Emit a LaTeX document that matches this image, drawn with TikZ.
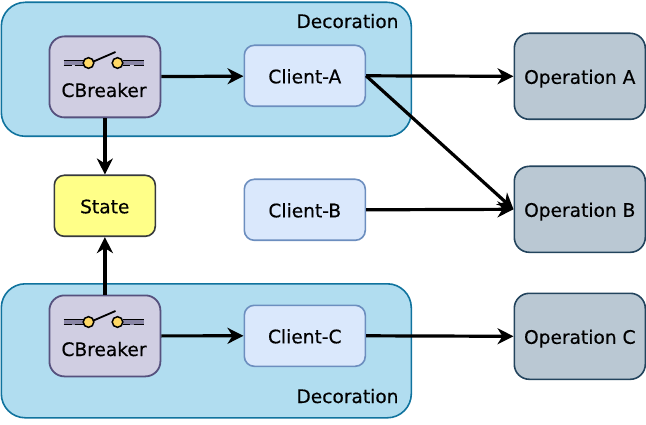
\documentclass[tikz,border=0pt]{standalone}
\usepackage{fontspec}
\setmainfont{DejaVu Sans}[FakeBold=0.4]
\usetikzlibrary{arrows.meta,positioning}
\definecolor{groupfill}{HTML}{B1DDF0}
\definecolor{groupline}{HTML}{10739E}
\definecolor{cbfill}{HTML}{D0CEE2}
\definecolor{cbline}{HTML}{56517E}
\definecolor{clfill}{HTML}{DAE8FC}
\definecolor{clline}{HTML}{6C8EBF}
\definecolor{opfill}{HTML}{BAC8D3}
\definecolor{opline}{HTML}{23445D}
\definecolor{stfill}{HTML}{FFFF88}
\definecolor{stline}{HTML}{36393D}
\definecolor{swfill}{HTML}{FFD966}
\newcommand{\lbl}[1]{\raisebox{-7.5pt}[0pt][0pt]{#1}}
\tikzset{
  txt/.style={font=\fontsize{18.6}{20}\selectfont, text=black},
  box/.style={draw, rounded corners=#1, line width=1.6pt, inner sep=0pt, anchor=north west, txt},
  groupbox/.style={box=24pt, draw=groupline, fill=groupfill, minimum width=410pt, minimum height=134pt},
  cbbox/.style={box=15pt, draw=cbline, fill=cbfill, line width=1.8pt, minimum width=111pt, minimum height=81pt},
  clbox/.style={box=10pt, draw=clline, fill=clfill, minimum width=121pt, minimum height=61pt},
  opbox/.style={box=15pt, draw=opline, fill=opfill, minimum width=131pt, minimum height=86pt},
  stbox/.style={box=10pt, draw=stline, fill=stfill, minimum width=101pt, minimum height=61pt},
  flow/.style={draw=black, line width=3.2pt, -{Stealth[length=16pt,width=16pt,inset=5pt]}},
  swline/.style={line width=1.8pt, black},
  swpin/.style={draw=black, line width=1.5pt, fill=swfill},
}
\newcommand{\swicon}[2]{%
  \begin{scope}[shift={(#1,#2)}]
    \fill[cbline!70] (64,61) rectangle (84,66);
    \fill[cbline!70] (123,61) rectangle (144,66);
    \draw[swline] (64,61) -- (84,61);
    \draw[swline] (123,61) -- (144,61);
    \draw[swline] (64,66) -- (72,66) (75,66) -- (84,66);
    \draw[swline] (123,66) -- (130,66) (134,66) -- (144,66);
    \draw[swline] (94,62) -- (116,52.5);
    \path[swpin] (89,63.5) circle (5.3);
    \path[swpin] (118,63.5) circle (5.3);
  \end{scope}}
\begin{document}
\begin{tikzpicture}[x=1pt,y=-1pt]
\useasboundingbox (0.5,0.5) rectangle (646.5,425.5);
\node[groupbox] (g1) at (1,2) {};
\node[groupbox] (g2) at (1,283.5) {};
\node[cbbox] (cb1) at (49,36) {};
\node[cbbox] (cb2) at (49,295) {};
\node[clbox] (ca) at (244,45) {\lbl{Client-A}};
\node[clbox] (cb) at (244,179) {\lbl{Client-B}};
\node[clbox] (cc) at (244,305) {\lbl{Client-C}};
\node[stbox] (st) at (54,175) {\lbl{State}};
\node[opbox] (oa) at (514,33) {\lbl{Operation A}};
\node[opbox] (ob) at (514,166) {\lbl{Operation B}};
\node[opbox] (oc) at (514,293) {\lbl{Operation C}};
\node[txt] (d1) at (348,21) {\lbl{Decoration}};
\node[txt] (d2) at (348,396) {\lbl{Decoration}};
\node[txt] (t1) at (104.5,90) {\lbl{CBreaker}};
\node[txt] (t2) at (104.5,349) {\lbl{CBreaker}};
\swicon{0}{0}
\swicon{0}{259}
\draw[flow] (cb1) -- (ca);
\draw[flow] (ca.east) -- (oa.west);
\draw[flow] (ca.east) -- (ob.west);
\draw[flow] (cb.east) -- (ob.west);
\draw[flow] (cb1.south) -- (st.north -| cb1.south);
\draw[flow] (cb2.north) -- (st.south -| cb2.north);
\draw[flow] (cb2.east) -- (cc.west);
\draw[flow] (cc.east) -- (oc.west);
\end{tikzpicture}
\end{document}
